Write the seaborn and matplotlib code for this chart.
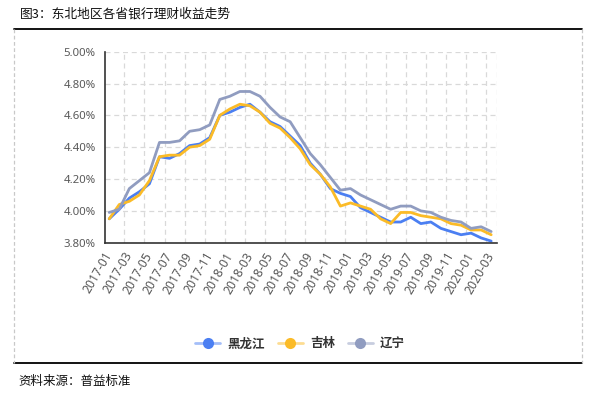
import matplotlib
matplotlib.use("Agg")
import numpy as np
import pandas as pd
import seaborn as sns
import matplotlib.pyplot as plt
from matplotlib.lines import Line2D
from matplotlib.colors import to_rgba
from matplotlib.ticker import FuncFormatter

# ---------------- data ----------------
months = ["2017-01", "2017-02", "2017-03", "2017-04", "2017-05", "2017-06", "2017-07", "2017-08",
          "2017-09", "2017-10", "2017-11", "2017-12", "2018-01", "2018-02", "2018-03", "2018-04",
          "2018-05", "2018-06", "2018-07", "2018-08", "2018-09", "2018-10", "2018-11", "2018-12",
          "2019-01", "2019-02", "2019-03", "2019-04", "2019-05", "2019-06", "2019-07", "2019-08",
          "2019-09", "2019-10", "2019-11", "2019-12", "2020-01", "2020-02", "2020-03"]

heilongjiang = [3.95, 4.01, 4.08, 4.12, 4.17, 4.34, 4.33, 4.36, 4.41, 4.42, 4.46, 4.60, 4.62,
                4.65, 4.67, 4.62, 4.56, 4.53, 4.47, 4.41, 4.30, 4.23, 4.14, 4.11, 4.09, 4.02,
                3.99, 3.96, 3.93, 3.93, 3.96, 3.92, 3.93, 3.89, 3.87, 3.85, 3.86, 3.83, 3.81]
jilin = [3.95, 4.04, 4.06, 4.10, 4.19, 4.34, 4.35, 4.35, 4.40, 4.41, 4.45, 4.60, 4.64,
         4.67, 4.66, 4.62, 4.55, 4.52, 4.46, 4.39, 4.29, 4.23, 4.15, 4.03, 4.05, 4.03,
         4.01, 3.95, 3.92, 3.99, 3.99, 3.97, 3.96, 3.95, 3.92, 3.91, 3.88, 3.88, 3.85]
liaoning = [3.99, 4.01, 4.14, 4.19, 4.24, 4.43, 4.43, 4.44, 4.50, 4.51, 4.54, 4.70, 4.72,
            4.75, 4.75, 4.72, 4.65, 4.59, 4.56, 4.46, 4.36, 4.29, 4.21, 4.13, 4.14, 4.10,
            4.07, 4.04, 4.01, 4.03, 4.03, 4.00, 3.99, 3.96, 3.94, 3.93, 3.89, 3.90, 3.87]

series_names = ["黑龙江", "吉林", "辽宁"]
yticks = [3.80, 4.00, 4.20, 4.40, 4.60, 4.80, 5.00]
title = "图3：东北地区各省银行理财收益走势"
source = "资料来源：普益标准"

colors = ["#4b7ff2", "#fbbb27", "#909cc0"]

# ---------------- build table ----------------
df = pd.DataFrame({"month": months, "黑龙江": heilongjiang, "吉林": jilin, "辽宁": liaoning})
df["pos"] = np.arange(len(months))
long = df.melt(id_vars=["month", "pos"], value_vars=series_names,
               var_name="省份", value_name="收益率")

# ---------------- style ----------------
sns.set_theme(style="white")
plt.rcParams["font.family"] = ["Noto Sans", "Noto Sans CJK SC", "DejaVu Sans"]

fig = plt.figure(figsize=(6.0, 3.93), dpi=100)
W, H = 600.0, 393.0
ax = fig.add_axes([104.7 / W, 1 - 242.7 / H, (496.7 - 104.7) / W, (242.7 - 51.7) / H])

sns.lineplot(data=long, x="pos", y="收益率", hue="省份", hue_order=series_names,
             palette=dict(zip(series_names, colors)), linewidth=2.0, ax=ax,
             legend=False, sort=False)

ax.set_xlim(-0.45, 38.55)
ax.set_ylim(yticks[0], yticks[-1])
ax.set_yticks(yticks)
ax.yaxis.set_major_formatter(FuncFormatter(lambda v, _: f"{v:.2f}%"))

major = np.arange(0, len(months), 2)
ax.set_xticks(major)
ax.set_xticklabels([months[i] for i in major], rotation=60, ha="right", va="center",
                   rotation_mode="anchor")
ax.set_xticks(list(np.arange(1.5, len(months) - 1, 2)) + [38.55], minor=True)

ax.set_xlabel("")
ax.set_ylabel("")

grid_kw = dict(color="#d9d9d9", linestyle=(0, (4, 3)), linewidth=0.9)
ax.grid(False)
ax.yaxis.grid(True, which="major", **grid_kw)
ax.xaxis.grid(True, which="minor", **grid_kw)
ax.set_axisbelow(True)

for s in ["top", "right"]:
    ax.spines[s].set_visible(False)
for s in ["left", "bottom"]:
    ax.spines[s].set_color("#333333")
    ax.spines[s].set_linewidth(1.2)

ax.tick_params(axis="both", which="major", direction="out", length=4.5, width=1.0,
               color="#333333", labelcolor="#595959", labelsize=8.2)
ax.tick_params(axis="x", which="major", pad=3, labelsize=8.8)
ax.tick_params(axis="y", which="major", pad=2)
ax.tick_params(axis="x", which="minor", length=0)

# ---------------- legend ----------------
handles = [Line2D([0], [0], color=to_rgba(c, 0.5), lw=2, marker="o", markersize=8,
                  markerfacecolor=to_rgba(c, 1.0), markeredgecolor=to_rgba(c, 1.0),
                  markeredgewidth=0)
           for c in colors]
leg = fig.legend(handles, series_names, loc="center", bbox_to_anchor=(0.5, 1 - 344 / H),
                 ncol=3, frameon=False, handlelength=2.0, handletextpad=0.6,
                 columnspacing=1.0, numpoints=1,
                 prop={"family": ["Noto Sans CJK SC"], "size": 9, "weight": "bold"})
for t in leg.get_texts():
    t.set_color("#333333")

# ---------------- frame & texts ----------------
x0, x1 = 14 / W, 582 / W
ytop, ybot = 1 - 29 / H, 1 - 363 / H
fig.add_artist(Line2D([x0, x1], [ytop, ytop], color="black", lw=1.3, transform=fig.transFigure))
fig.add_artist(Line2D([x0, x1], [ybot, ybot], color="black", lw=1.3, transform=fig.transFigure))
for xx in (x0, x1):
    fig.add_artist(Line2D([xx, xx], [ytop, ybot], color="#c8c8c8", lw=0.9,
                          linestyle=(0, (3, 2)), transform=fig.transFigure))

fig.text(20 / W, 1 - 14 / H, title, ha="left", va="center", fontsize=9.2,
         color="#111111", family=["Noto Sans CJK SC", "DejaVu Sans"])
fig.text(18 / W, 1 - 381 / H, source, ha="left", va="center", fontsize=9,
         color="#111111", family=["Noto Sans CJK SC", "DejaVu Sans"])

fig.savefig("out.png", dpi=100)
